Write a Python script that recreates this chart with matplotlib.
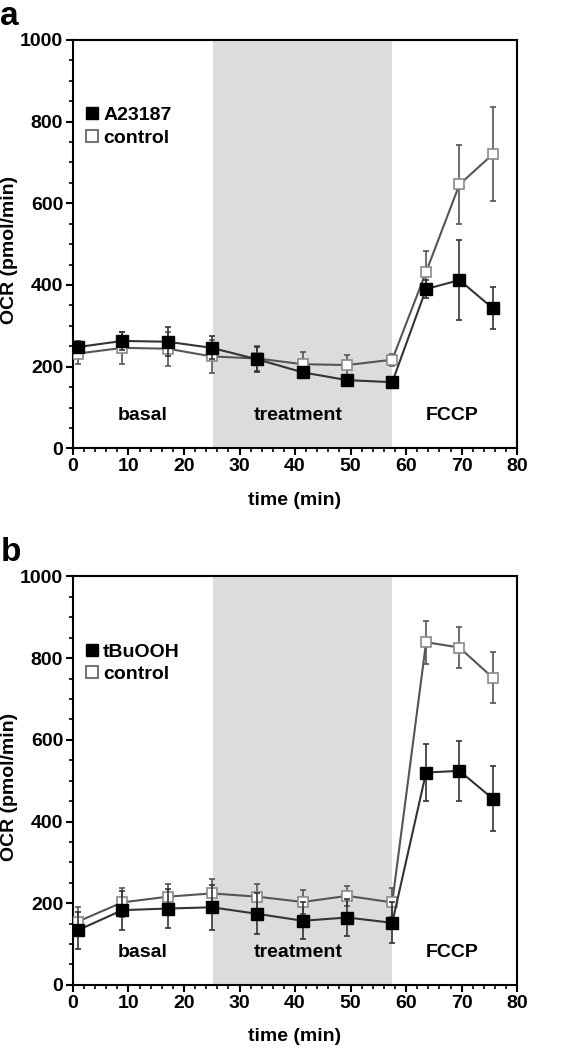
import matplotlib
matplotlib.use("Agg")
import matplotlib.pyplot as plt
from matplotlib.ticker import MultipleLocator
from matplotlib.lines import Line2D

plt.rcParams['font.family'] = ['Liberation Sans', 'DejaVu Sans']
plt.rcParams['font.weight'] = 'bold'

time = [0.9, 8.9, 17.1, 25.0, 33.2, 41.4, 49.4, 57.5, 63.6, 69.6, 75.6]

# Panel a
a23187 = [248, 263, 261, 246, 218, 186, 167, 162, 390, 412, 343]
a23187_err = [15, 22, 35, 28, 30, 10, 8, 8, 22, 98, 52]
ctrl_a = [232, 246, 244, 225, 220, 206, 204, 217, 432, 646, 720]
ctrl_a_err = [25, 40, 42, 40, 30, 30, 25, 15, 50, 97, 115]

# Panel b
tbuooh = [134, 183, 187, 190, 174, 157, 165, 152, 520, 524, 456]
tbuooh_err = [45, 48, 48, 55, 50, 45, 45, 50, 70, 73, 80]
ctrl_b = [155, 202, 216, 224, 216, 203, 218, 202, 839, 826, 752]
ctrl_b_err = [35, 35, 30, 35, 30, 30, 25, 35, 53, 50, 63]

treat_span = (25.2, 57.4)
regions = ["basal", "treatment", "FCCP"]
region_x = [12.5, 40.5, 68.3]
region_y = 80

FS = 14

fig = plt.figure(figsize=(5.74, 10.5), dpi=100)
ax_a = fig.add_axes([0.127, 0.573, 0.774, 0.389])
ax_b = fig.add_axes([0.127, 0.062, 0.774, 0.389])

def draw(ax, treat, terr, ctrl, cerr, name, letter):
    ax.axvspan(*treat_span, color='#dcdcdc', lw=0, zorder=0)
    ax.errorbar(time, ctrl, yerr=cerr, color='#555555', lw=1.5, marker='s',
                ms=7, mfc='white', mec='#8a8a8a', mew=1.2, ecolor='#555555',
                elinewidth=1.2, capsize=2, capthick=1.2, zorder=3)
    ax.errorbar(time, treat, yerr=terr, color='#333333', lw=1.5, marker='s',
                ms=8, mfc='black', mec='black', ecolor='#333333',
                elinewidth=1.2, capsize=2, capthick=1.2, zorder=4)
    ax.set_xlim(0, 80)
    ax.set_ylim(0, 1000)
    ax.xaxis.set_major_locator(MultipleLocator(10))
    ax.xaxis.set_minor_locator(MultipleLocator(2))
    ax.yaxis.set_major_locator(MultipleLocator(200))
    ax.yaxis.set_minor_locator(MultipleLocator(50))
    ax.tick_params(which='major', direction='out', length=5, width=1.5,
                   labelsize=FS, pad=2, top=False, right=False)
    ax.tick_params(which='minor', direction='out', length=3, width=1.2,
                   top=False, right=False)
    for lab in ax.get_xticklabels() + ax.get_yticklabels():
        lab.set_fontweight('bold')
    for s in ax.spines.values():
        s.set_linewidth(1.5)
    ax.set_xlabel('time (min)', fontsize=FS, fontweight='bold', labelpad=12)
    ax.set_ylabel('OCR (pmol/min)', fontsize=FS, fontweight='bold',
                  va='center', ha='center')
    ax.yaxis.set_label_coords(-0.142, 0.485)
    for t, x in zip(regions, region_x):
        ax.text(x, region_y, t, ha='center', va='center', fontsize=FS,
                fontweight='bold')
    handles = [Line2D([], [], ls='none', marker='s', ms=9, mfc='black', mec='black'),
               Line2D([], [], ls='none', marker='s', ms=8, mfc='white',
                      mec='#777777', mew=1.5)]
    leg = ax.legend(handles, [name, 'control'], loc='upper left',
                    bbox_to_anchor=(0.0, 0.87), frameon=False, fontsize=FS,
                    handlelength=0.6, handletextpad=0.25, labelspacing=0.25,
                    borderaxespad=0.3)
    for t in leg.get_texts():
        t.set_fontweight('bold')
    ax.text(-0.163, 1.02, letter, transform=ax.transAxes, fontsize=24,
            fontweight='bold', va='bottom', ha='left')

draw(ax_a, a23187, a23187_err, ctrl_a, ctrl_a_err, 'A23187', 'a')
draw(ax_b, tbuooh, tbuooh_err, ctrl_b, ctrl_b_err, 'tBuOOH', 'b')

fig.savefig('out.png', dpi=100)
